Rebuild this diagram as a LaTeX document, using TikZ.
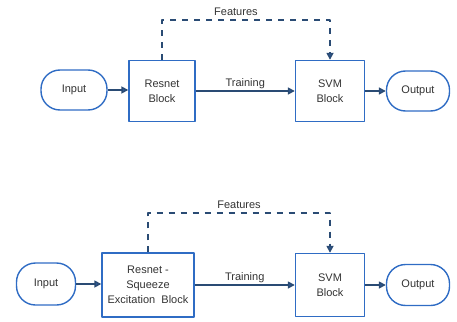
\documentclass[tikz,border=0pt]{standalone}
\usepackage{fontspec}
\setmainfont{Liberation Sans}
\usetikzlibrary{arrows.meta,positioning}
\definecolor{boxblue}{HTML}{2F6CC4}
\definecolor{linkblue}{HTML}{2A4B74}
\definecolor{tipblue}{HTML}{2D62AC}
\definecolor{textgray}{HTML}{333333}
\tikzset{
  every picture/.style={
    font=\fontsize{11}{15}\selectfont,
    line join=round,
    >={Triangle[length=7pt,width=7pt,fill=tipblue]},
  },
  pill/.style={draw=boxblue, line width=1.4pt, rounded corners=19pt,
    minimum width=66pt, minimum height=40pt, text=textgray},
  block/.style={draw=boxblue, line width=1.4pt, minimum height=61pt,
    align=center, text=textgray},
  link/.style={draw=linkblue, line width=1.6pt, ->},
  featlink/.style={link, dashed, dash pattern=on 6pt off 6pt},
  lbl/.style={text=textgray, inner sep=1pt},
}
\begin{document}
\begin{tikzpicture}[x=1pt, y=-1pt]
    \useasboundingbox (0,0) rectangle (457,321);

    % Upper chain
    \node[pill]                          (in1)  at (74,90)  {Input};
    \node[block, minimum width=66pt]     (res1) at (162,91) {Resnet\\Block};
    \node[block, minimum width=69pt]     (svm1) at (330,91) {SVM\\Block};
    \node[pill, minimum width=63pt]      (out1) at (418,91) {Output};

    \draw[link] (in1) -- (in1 -| res1.west);
    \draw[link] (res1) -- node[lbl, above] {Training} (svm1);
    \draw[link] (svm1) -- (out1);
    \draw[featlink] (res1.north) |- (162,20) -| node[lbl, pos=0.22, above=3pt] {Features} (svm1.north);

    % Lower chain
    \node[pill, minimum width=59pt, minimum height=42pt] (in2)  at (46,284)  {Input};
    \node[block, minimum width=92pt, minimum height=64pt] (res2) at (148,285) {Resnet -\\Squeeze\\Excitation\ \ Block};
    \node[block, minimum width=69pt, minimum height=63pt] (svm2) at (330,285) {SVM\\Block};
    \node[pill, minimum width=63pt, minimum height=41pt] (out2) at (418,285) {Output};

    \draw[link] (in2) -- (in2 -| res2.west);
    \draw[link] (res2) -- node[lbl, above] {Training} (svm2);
    \draw[link] (svm2) -- (out2);
    \draw[featlink] (res2.north) |- (148,213) -| node[lbl, pos=0.25, above=3pt] {Features} (svm2.north);
\end{tikzpicture}
\end{document}
